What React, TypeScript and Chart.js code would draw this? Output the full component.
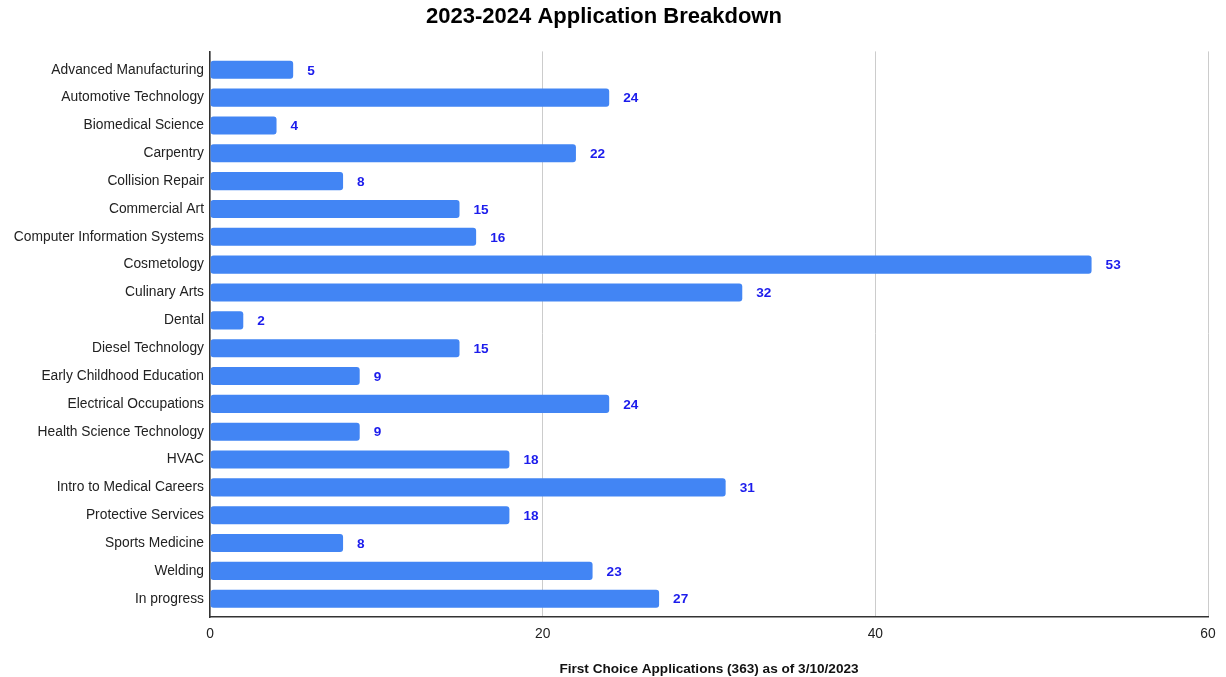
import React, { useEffect, useRef } from "react";
import { Chart, registerables } from "chart.js";

Chart.register(...registerables);

const categories = [
  "Advanced Manufacturing",
  "Automotive Technology",
  "Biomedical Science",
  "Carpentry",
  "Collision Repair",
  "Commercial Art",
  "Computer Information Systems",
  "Cosmetology",
  "Culinary Arts",
  "Dental",
  "Diesel Technology",
  "Early Childhood Education",
  "Electrical Occupations",
  "Health Science Technology",
  "HVAC",
  "Intro to Medical Careers",
  "Protective Services",
  "Sports Medicine",
  "Welding",
  "In progress",
];

const applications = [5, 24, 4, 22, 8, 15, 16, 53, 32, 2, 15, 9, 24, 9, 18, 31, 18, 8, 23, 27];

const xTicks = [0, 20, 40, 60];

const titleText = "2023-2024 Application Breakdown";
const xAxisTitle = "First Choice Applications (363) as of 3/10/2023";

const FONT = "'Liberation Sans', Arial, sans-serif";

const valueLabels = {
  id: "valueLabels",
  afterDatasetsDraw(chart: any) {
    const ctx = chart.ctx;
    const meta = chart.getDatasetMeta(0);
    const data = chart.data.datasets[0].data as number[];
    ctx.save();
    ctx.font = `bold 13.6px ${FONT}`;
    ctx.fillStyle = "#1c1cec";
    ctx.textAlign = "left";
    ctx.textBaseline = "middle";
    meta.data.forEach((el: any, i: number) => {
      ctx.fillText(String(data[i]), el.x + 14, el.y + 1);
    });
    ctx.restore();
  },
};

// inset the category band slightly from the axis ends
const categoryInset = {
  id: "categoryInset",
  afterLayout(chart: any) {
    const y = chart.scales.y;
    if (!y) return;
    const inset = 0.16;
    y._startValue -= inset;
    y._valueRange += inset * 2;
  },
};

export default function App() {
  const ref = useRef<HTMLCanvasElement | null>(null);

  useEffect(() => {
    if (!ref.current) return;
    const chart = new Chart(ref.current, {
      type: "bar",
      data: {
        labels: categories,
        datasets: [
          {
            data: applications,
            backgroundColor: "#4285F4",
            borderRadius: 3,
            borderSkipped: false,
            categoryPercentage: 0.65,
            barPercentage: 1,
          },
        ],
      },
      options: {
        indexAxis: "y",
        animation: false,
        responsive: true,
        maintainAspectRatio: false,
        layout: { padding: { top: 4, right: 18, bottom: 0, left: 0 } },
        plugins: {
          legend: { display: false },
          tooltip: { enabled: false },
          title: {
            display: true,
            text: titleText,
            color: "#000",
            font: { family: FONT, size: 22, weight: "bold" },
            padding: { top: 0, bottom: 21 },
          },
        },
        scales: {
          x: {
            min: 0,
            max: 60,
            afterBuildTicks(axis: any) {
              axis.ticks = xTicks.map((v) => ({ value: v }));
            },
            ticks: {
              color: "#222",
              font: { family: FONT, size: 13.8 },
              padding: 9,
            },
            grid: {
              color: "#cccccc",
              drawTicks: false,
            },
            border: { display: true, color: "#333333", width: 1.5 },
            title: {
              display: true,
              text: xAxisTitle,
              color: "#111",
              font: { family: FONT, size: 13.6, weight: "bold" },
              padding: { top: 9, bottom: 0 },
            },
          },
          y: {
            afterFit(axis: any) {
              axis.width = 210;
            },
            ticks: {
              color: "#222",
              font: { family: FONT, size: 13.8 },
              padding: 6,
              autoSkip: false,
            },
            grid: { display: false, drawTicks: false },
            border: { display: true, color: "#333333", width: 1.5 },
          },
        },
      },
      plugins: [categoryInset, valueLabels],
    });
    return () => chart.destroy();
  }, []);

  return (
    <div style={{ position: "fixed", left: 0, top: 0, width: 1226, height: 677, background: "#fff" }}>
      <canvas ref={ref} />
    </div>
  );
}
